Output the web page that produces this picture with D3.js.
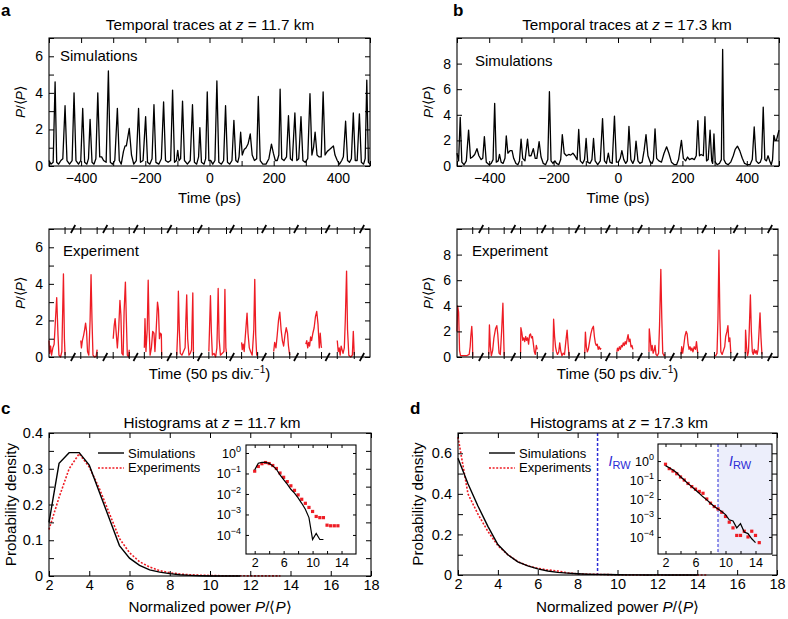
<!DOCTYPE html>
<html>
<head>
<meta charset="utf-8">
<style>
  body { margin: 0; background: #fff; }
  text { font-family: "Liberation Sans", Arial, sans-serif; }
</style>
</head>
<body>
<script src="https://cdnjs.cloudflare.com/ajax/libs/d3/7.8.5/d3.min.js"></script>
<script>
// ---- data ----
// panel a, simulated trace at z = 11.7 km: [time (ps), P/<P>]
const simA = [[-500,0.3],[-494,0.1],[-487,0.2],[-481,4.6],[-476,0.2],[-470,0.1],[-463,0.3],[-457,0.4],[-450,3.3],[-444,0.3],[-436,0.1],[-428,0.3],[-422,4.0],[-416,0.3],[-408,0.1],[-401,0.3],[-395,3.15],[-389,0.2],[-382,0.1],[-377,0.4],[-372,2.55],[-366,0.2],[-360,0.1],[-354,0.4],[-348,4.0],[-342,0.5],[-336,0.5],[-330,0.3],[-322,0.2],[-315,5.2],[-309,0.2],[-302,0.1],[-295,0.3],[-287,3.15],[-281,0.3],[-275,0.1],[-268,0.8],[-263,1.1],[-259,1.1],[-250,2.05],[-243,0.6],[-236,0.1],[-228,0.3],[-221,3.15],[-215,0.2],[-207,0.3],[-199,2.7],[-193,0.2],[-186,0.1],[-179,0.4],[-173,3.35],[-167,0.2],[-158,0.1],[-150,0.4],[-143,3.5],[-137,0.3],[-129,0.2],[-121,0.3],[-115,4.15],[-109,0.2],[-103,0.3],[-99,0.85],[-95,0.3],[-90,0.4],[-84,3.55],[-78,0.3],[-69,0.1],[-60,0.3],[-53,3.35],[-47,0.2],[-40,0.1],[-34,0.5],[-30,2.1],[-25,0.2],[-17,0.1],[-12,0.4],[-7,4.05],[-2,0.3],[4,0.3],[10,0.1],[17,0.3],[23,4.65],[29,0.2],[37,0.1],[44,0.3],[50,3.3],[56,0.2],[63,0.1],[70,0.3],[76,2.5],[82,0.3],[88,0.2],[92,0.5],[97,1.85],[102,0.6],[108,0.9],[114,1.0],[120,1.2],[127,1.75],[133,0.6],[140,0.3],[147,0.4],[152,3.8],[158,0.3],[166,0.1],[176,0.1],[185,0.4],[193,1.2],[199,0.7],[205,0.3],[211,0.3],[216,0.6],[220,4.2],[225,0.4],[232,0.3],[240,0.5],[246,2.75],[252,0.4],[258,0.3],[266,2.9],[272,0.3],[278,0.4],[285,2.7],[291,0.3],[298,0.2],[306,0.4],[313,3.95],[319,0.6],[324,1.0],[329,1.85],[335,0.6],[341,0.5],[348,0.5],[354,4.05],[360,0.6],[367,0.8],[374,0.9],[380,1.0],[386,1.1],[391,0.6],[398,0.3],[405,0.1],[412,0.3],[417,0.5],[424,2.45],[430,0.3],[436,0.2],[442,0.4],[448,2.9],[454,0.3],[460,0.3],[467,2.85],[473,0.2],[480,0.1],[485,0.4],[490,4.7],[495,0.2],[500,0.1]];

// panel b, simulated trace at z = 17.3 km
const simB = [[-500,1.0],[-495,0.4],[-490,3.8],[-485,0.3],[-478,0.1],[-471,0.4],[-464,2.8],[-458,0.6],[-452,0.7],[-445,0.9],[-438,1.35],[-432,0.8],[-425,0.5],[-420,0.6],[-415,2.3],[-409,0.3],[-400,0.1],[-394,0.2],[-388,0.5],[-383,4.9],[-378,0.3],[-372,0.4],[-368,0.9],[-363,0.3],[-357,0.2],[-351,0.6],[-347,2.35],[-342,1.0],[-335,1.2],[-329,1.2],[-324,0.6],[-317,0.2],[-311,0.1],[-306,0.4],[-301,2.1],[-296,0.6],[-289,0.4],[-281,2.1],[-276,0.8],[-270,0.8],[-263,1.35],[-257,0.6],[-252,0.6],[-245,1.9],[-239,0.7],[-232,0.2],[-225,0.1],[-218,0.5],[-213,5.8],[-208,0.4],[-202,0.2],[-196,0.4],[-191,0.2],[-184,0.1],[-178,0.5],[-173,2.45],[-167,1.0],[-160,0.8],[-153,0.9],[-147,0.85],[-140,1.0],[-134,0.8],[-127,0.5],[-122,2.85],[-117,0.4],[-110,0.2],[-104,0.5],[-99,2.15],[-94,0.3],[-87,0.2],[-81,0.5],[-76,2.15],[-71,0.4],[-63,0.1],[-55,0.4],[-48,3.7],[-42,0.4],[-36,0.2],[-30,1.0],[-25,0.3],[-18,0.2],[-11,3.9],[-5,0.3],[1,0.3],[7,0.6],[12,1.2],[18,0.5],[24,0.2],[29,0.4],[34,3.1],[40,0.5],[46,0.2],[51,0.5],[56,1.95],[62,0.4],[68,0.2],[75,0.3],[81,1.2],[87,2.45],[93,0.8],[100,0.3],[106,0.2],[110,0.5],[115,2.9],[120,0.6],[127,0.4],[135,0.3],[143,1.0],[151,1.5],[158,1.0],[166,0.3],[175,0.1],[182,0.1],[188,0.5],[197,2.0],[203,0.6],[210,0.4],[216,0.7],[222,0.5],[230,0.6],[237,0.5],[243,0.8],[248,3.55],[253,0.8],[258,0.9],[265,0.8],[270,3.85],[275,0.4],[280,0.5],[286,2.8],[291,0.4],[294,0.2],[298,2.5],[302,0.3],[308,0.1],[315,0.2],[321,0.5],[325,9.1],[329,0.5],[335,0.2],[342,0.1],[350,0.3],[358,0.8],[364,1.3],[371,1.55],[378,1.2],[386,0.6],[393,0.2],[402,0.1],[410,0.1],[417,0.5],[423,3.05],[429,0.4],[436,0.2],[442,0.3],[446,0.6],[451,4.6],[456,0.5],[461,0.4],[466,0.8],[471,0.4],[476,0.1],[480,0.5],[484,2.4],[488,2.0],[492,2.0],[496,2.4],[500,2.8]];

// experimental traces: 10 recorded windows each, x in ps on a broken axis
const expA = [
  [[0,0.9],[2,0.2],[5,0.6],[8,0.1],[12,0.5],[16,0.7],[20,2.0],[24,3.25],[28,1.2],[31,0.1],[36,0.0],[40,0.3],[45,4.55],[48,1.0],[50,0.1]],
  [[99,0.9],[101,0.5],[104,0.9],[108,1.2],[111,1.5],[114,1.85],[117,1.4],[120,0.3],[124,0.1],[128,2.0],[131,4.5],[134,2.0],[137,0.1],[142,0.0],[147,0.05],[150,0.4]],
  [[200,1.0],[203,1.7],[206,2.1],[209,1.4],[213,0.5],[217,1.5],[221,3.1],[224,2.3],[227,0.2],[231,0.1],[234,2.5],[238,4.1],[241,2.0],[244,0.1],[248,0.0],[250,0.4]],
  [[297,0.5],[299,2.1],[302,0.3],[306,1.5],[309,4.2],[312,1.5],[315,0.1],[319,0.5],[323,1.4],[327,1.3],[330,0.3],[334,1.5],[338,3.0],[341,2.6],[344,1.0],[347,1.3],[350,1.25],[351,0.1]],
  [[398,0.1],[401,1.5],[403,3.6],[406,1.5],[409,0.2],[414,0.1],[419,0.3],[424,0.5],[426,1.8],[429,3.4],[432,1.0],[436,0.1],[440,0.2],[444,0.4],[446,2.0],[448,3.5],[450,0.2]],
  [[498,0.3],[500,1.5],[503,3.35],[506,1.3],[509,0.1],[514,0.2],[519,0.0],[523,0.5],[525,2.0],[527,3.75],[530,1.0],[534,0.1],[540,0.2],[545,0.3],[548,3.7],[551,0.5],[553,0.2]],
  [[600,0.8],[602,0.4],[605,0.7],[608,0.3],[611,1.0],[614,1.7],[617,2.4],[620,1.3],[624,0.5],[628,0.3],[633,0.1],[638,1.5],[641,4.25],[644,1.2],[647,0.1],[650,0.2]],
  [[700,0.3],[703,0.8],[707,0.5],[711,1.2],[715,2.0],[719,2.45],[723,1.5],[727,0.9],[731,0.6],[735,1.2],[739,1.6],[743,1.3],[746,0.6],[749,0.2],[750,0.1]],
  [[800,0.7],[803,0.9],[806,0.5],[809,0.8],[812,0.6],[815,1.1],[818,0.9],[822,1.3],[826,1.6],[830,2.2],[834,2.5],[838,1.8],[842,0.5],[845,1.3],[848,0.6],[849,0.5]],
  [[898,0.9],[901,0.3],[904,0.5],[907,0.1],[910,0.6],[913,0.4],[916,0.2],[920,0.5],[923,2.0],[927,4.7],[930,1.5],[934,0.1],[940,0.0],[945,0.1],[948,1.4],[951,0.1]]
];
const expB = [
  [[0,2.0],[2,4.0],[5,3.5],[8,0.5],[11,0.1],[20,0.1],[30,0.1],[38,0.2],[41,0.8],[43,1.6],[46,2.4],[48,1.5],[49,0.1]],
  [[99,0.2],[101,2.5],[104,0.8],[107,0.1],[111,0.5],[115,1.5],[120,2.2],[124,2.45],[127,1.8],[131,0.3],[135,0.2],[139,2.0],[143,4.2],[146,1.0],[147,0.1]],
  [[198,0.3],[199,2.3],[202,1.9],[205,1.3],[208,1.5],[211,1.2],[214,1.6],[217,1.3],[220,1.5],[223,1.0],[226,1.7],[229,1.8],[232,1.5],[235,1.6],[238,1.0],[241,0.4],[244,0.2],[247,0.9],[250,0.6]],
  [[299,0.4],[301,2.95],[304,1.6],[307,0.8],[310,0.4],[313,0.2],[317,0.4],[320,1.1],[323,0.5],[327,0.1],[331,0.3],[335,0.2],[339,1.2],[343,2.1],[346,1.0],[349,0.1]],
  [[398,0.3],[400,1.95],[403,0.8],[406,0.4],[409,0.6],[413,1.2],[417,1.8],[421,2.2],[425,2.4],[428,1.6],[431,1.1],[434,0.9],[437,1.0],[440,0.6],[443,0.8],[446,0.6],[449,0.7]],
  [[498,0.4],[500,0.7],[503,0.5],[506,0.8],[509,0.6],[512,0.9],[515,0.8],[518,1.1],[521,0.9],[524,1.2],[527,1.0],[530,1.4],[533,1.75],[536,1.2],[539,1.4],[542,0.8],[545,0.9],[548,0.6]],
  [[598,0.4],[599,2.2],[602,1.4],[605,0.5],[608,0.9],[611,0.3],[614,0.5],[617,0.9],[620,0.2],[624,0.1],[628,0.3],[631,2.5],[635,6.85],[638,3.0],[641,0.3],[645,0.1],[648,0.2]],
  [[698,0.2],[700,0.8],[703,0.3],[706,0.8],[710,1.6],[714,2.0],[717,1.8],[720,1.0],[723,0.6],[726,0.8],[729,0.5],[732,0.7],[735,0.4],[739,0.8],[743,0.6],[746,1.2],[749,0.5],[750,0.3]],
  [[802,0.1],[806,0.1],[810,0.3],[813,3.0],[816,8.35],[819,3.0],[822,0.4],[826,0.2],[830,0.5],[834,0.8],[837,1.6],[841,2.0],[844,2.45],[847,1.2],[850,1.5],[853,0.3]],
  [[898,0.3],[899,2.1],[902,0.8],[905,0.1],[908,0.4],[911,2.5],[914,4.85],[917,2.0],[920,0.4],[923,0.2],[926,0.6],[929,0.3],[932,0.5],[935,0.2],[938,0.6],[941,2.0],[944,3.45],[947,1.5],[950,0.2]]
];
// axis breaks between the recorded windows
const expBreaks = [75, 175, 270, 375, 470, 570, 670, 770, 868, 975];

// histograms: normalized power bins and probability density
const binsC_sim = [2,2.5,3,3.5,4,4.5,5,5.5,6,6.5,7,7.5,8,8.5,9,9.5,10,10.5,11,11.5];
const pdfC_sim  = [0.15,0.315,0.345,0.345,0.31,0.235,0.16,0.085,0.05,0.03,0.017,0.011,0.0065,0.0035,0.0018,0.0007,0.00006,0.00012,0.00006,0.00006];
const binsC_exp = [2,2.5,3,3.5,4,4.5,5,5.5,6,6.5,7,7.5,8,8.5,9,9.5,10,10.5,11,11.5,12,12.5,13,13.5];
const pdfC_exp  = [0.13,0.22,0.3,0.342,0.305,0.245,0.175,0.105,0.065,0.04,0.025,0.015,0.009,0.0055,0.0035,0.0022,0.0014,0.0008,0.0007,0.0007,0.0003,0.00028,0.00028,0.00028];
const binsD_sim = [2,2.5,3,3.5,4,4.5,5,5.5,6,6.5,7,7.5,8,8.5,9,9.5,10,10.5,11,11.5,12,12.5,13,13.5,14];
const pdfD_sim  = [0.575,0.45,0.34,0.24,0.15,0.1,0.065,0.045,0.03,0.02,0.013,0.009,0.006,0.004,0.003,0.0022,0.0015,0.0008,0.0007,0.0003,0.0005,0.00018,0.00015,0.00008,0.00005];
const binsD_exp = [2,2.5,3,3.5,4,4.5,5,5.5,6,6.5,7,7.5,8,8.5,9,9.5,10,10.5,11,11.5,12,12.5,13,13.5,14,14.5];
const pdfD_exp  = [0.68,0.4,0.3,0.215,0.145,0.1,0.066,0.045,0.033,0.025,0.02,0.01,0.006,0.004,0.003,0.002,0.0012,0.0006,0.0003,0.00012,0.00012,0.0002,0.0001,0.0002,0.00012,0.00005];
const rogueThreshold = 9;

const tracesXTicks = [-500,-400,-300,-200,-100,0,100,200,300,400,500];
const tracesXLabels = [-400,-200,0,200,400];

// ---- drawing ----
const RED = "#ee1c24", BLUE = "#2b2bd6";
const svg = d3.select("body").append("svg").attr("width", 788).attr("height", 619);

function frame(x, y) {
  const [x0, x1] = x.range(), [y1, y0] = y.range();
  svg.append("rect").attr("x", x0).attr("y", y0).attr("width", x1 - x0).attr("height", y1 - y0)
    .attr("fill", "none").attr("stroke", "#000").attr("stroke-width", 1.1);
}

function axes(x, y, o) {
  const [x0, x1] = x.range(), [y1, y0] = y.range();
  const ts = o.tick || 5, fs = o.fs || 14;
  const parts = [];
  if (o.xTicks) {
    parts.push(svg.append("g").attr("transform", `translate(0,${y1})`)
      .call(d3.axisBottom(x).tickValues(o.xTicks).tickSize(-ts).tickPadding(o.xPad || 7)
        .tickFormat(v => (o.xLabels || []).includes(v) ? d3.format("")(v) : "")));
    parts.push(svg.append("g").attr("transform", `translate(0,${y0})`)
      .call(d3.axisTop(x).tickValues(o.xTicks).tickSize(-ts).tickFormat("")));
  }
  const left = svg.append("g").attr("transform", `translate(${x0},0)`)
    .call(d3.axisLeft(y).tickValues(o.yTicks).tickSize(-ts).tickPadding(6)
      .tickFormat(v => (o.yLabels || []).includes(v) ? (o.yFmt ? o.yFmt(v) : String(v)) : ""));
  parts.push(left);
  parts.push(svg.append("g").attr("transform", `translate(${x1},0)`)
    .call(d3.axisRight(y).tickValues(o.yTicks).tickSize(-ts).tickFormat("")));
  parts.forEach(g => {
    g.select(".domain").remove();
    g.selectAll("line").attr("stroke", "#000").attr("stroke-width", 1);
    g.selectAll("text").attr("font-size", fs).attr("fill", "#000")
      .style("font-family", "Liberation Sans, Arial, sans-serif");
  });
  return left;
}

function text(x, y, s, o = {}) {
  return svg.append("text").attr("x", x).attr("y", y)
    .attr("font-size", o.fs || 15).attr("text-anchor", o.anchor || "start")
    .attr("font-weight", o.bold ? "bold" : null).attr("fill", o.fill || "#000").text(s);
}

function ratioLabel(el) {
  el.append("tspan").attr("font-style", "italic").text("P");
  el.append("tspan").text("/\u27E8");
  el.append("tspan").attr("font-style", "italic").text("P");
  el.append("tspan").text("\u27E9");
}

function yLabel(x, y, builder, fs) {
  const t = svg.append("text").attr("transform", `translate(${x},${y}) rotate(-90)`)
    .attr("text-anchor", "middle").attr("font-size", fs || 13.5);
  builder(t);
}

function title(x, y, pre, z) {
  const t = text(x, y, "", { anchor: "middle", fs: 15.3 });
  t.append("tspan").text(pre);
  t.append("tspan").attr("font-style", "italic").text("z");
  t.append("tspan").text(" = " + z + " km");
}

function rwLabel(x, y) {
  const t = text(x, y, "", { fill: BLUE, fs: 14 });
  t.append("tspan").attr("font-style", "italic").text("I");
  t.append("tspan").attr("dy", 3).attr("font-size", 11).text("RW");
}

const line = d3.line().x(d => d[0]).y(d => d[1]);

// trace panels
function simPanel(data, x0, x1, yMax, yTicks, yLabels, lx, ly, ylx) {
  const x = d3.scaleLinear().domain([-500, 500]).range([x0, x1]);
  const y = d3.scaleLinear().domain([0, yMax]).range([166, 38]);
  svg.append("path").attr("d", line(data.map(d => [x(d[0]), y(d[1])])))
    .attr("fill", "none").attr("stroke", "#000").attr("stroke-width", 1.3).attr("stroke-linejoin", "round");
  axes(x, y, { xTicks: tracesXTicks, xLabels: tracesXLabels, yTicks, yLabels });
  frame(x, y);
  text(lx, ly, "Simulations");
  text((x0 + x1) / 2, 203, "Time (ps)", { anchor: "middle" });
  yLabel(ylx, (38 + 166) / 2, ratioLabel);
}

function expPanel(segs, x0, x1, yMax, yTicks, yLabels, lx, ylx) {
  const x = d3.scaleLinear().domain([0, 1000]).range([x0, x1]);
  const y = d3.scaleLinear().domain([0, yMax]).range([357, 229]);
  segs.forEach(s => svg.append("path").attr("d", line(s.map(d => [x(d[0]), y(d[1])])))
    .attr("fill", "none").attr("stroke", RED).attr("stroke-width", 1.3).attr("stroke-linejoin", "round"));
  axes(x, y, { yTicks, yLabels });
  frame(x, y);
  // window edge ticks and axis break marks
  const edges = [];
  segs.forEach(s => { edges.push(s[0][0], s[s.length - 1][0]); });
  edges.forEach(u => {
    if (x(u) <= x0 + 1) return;
    [[229, 1], [357, -1]].forEach(([yy, dir]) => {
      svg.append("line").attr("x1", x(u)).attr("x2", x(u)).attr("y1", yy - 2 * dir).attr("y2", yy + 5 * dir)
        .attr("stroke", "#000").attr("stroke-width", 1);
    });
  });
  expBreaks.forEach(u => {
    [229, 357].forEach(yy => {
      svg.append("line").attr("x1", x(u) - 2.2).attr("x2", x(u) + 2.2).attr("y1", yy + 4).attr("y2", yy - 4)
        .attr("stroke", "#000").attr("stroke-width", 1.7);
    });
  });
  text(lx, 256, "Experiment");
  const t = text((x0 + x1) / 2, 379, "Time (50 ps div.", { anchor: "middle" });
  t.append("tspan").attr("dy", -6).attr("font-size", 10).text("\u22121");
  t.append("tspan").attr("dy", 6).text(")");
  yLabel(ylx, (229 + 357) / 2, ratioLabel);
}

simPanel(simA, 49, 370, 7, [0,1,2,3,4,5,6,7], [0,2,4,6], 60, 61, 25);
simPanel(simB, 457, 779, 10, [0,2,4,6,8,10], [0,2,4,6,8], 475, 66, 433);
expPanel(expA, 49, 370, 7, [0,1,2,3,4,5,6,7], [0,2,4,6], 63, 25);
expPanel(expB, 457, 778, 10, [0,2,4,6,8,10], [0,2,4,6,8], 472, 433);

title(210, 30, "Temporal traces at ", "11.7");
title(627, 30, "Temporal traces at ", "17.3");
text(1, 16, "a", { fs: 17, bold: true });
text(453, 16, "b", { fs: 17, bold: true });

// histogram panels
function histPanel(o) {
  const x = d3.scaleLinear().domain([2, 18]).range([o.x0, o.x1]);
  const y = d3.scaleLinear().domain([0, o.yMax]).range([o.y1, 433]);
  const simPts = o.simBins.map((b, i) => [x(b), y(o.simPdf[i])]);
  const expPts = o.expBins.map((b, i) => [x(b), y(o.expPdf[i])]);
  if (o.rogue) {
    svg.append("line").attr("x1", x(rogueThreshold)).attr("x2", x(rogueThreshold)).attr("y1", 433).attr("y2", o.y1)
      .attr("stroke", BLUE).attr("stroke-width", 1.5).attr("stroke-dasharray", "3,2");
    rwLabel(x(rogueThreshold) + 11, 466);
  }
  svg.append("path").attr("d", line(expPts)).attr("fill", "none").attr("stroke", RED)
    .attr("stroke-width", 1.6).attr("stroke-dasharray", "2,1.6");
  svg.append("path").attr("d", line(simPts)).attr("fill", "none").attr("stroke", "#000").attr("stroke-width", 1.4);
  axes(x, y, { xTicks: d3.range(2, 19, 2), xLabels: d3.range(2, 19, 2), yTicks: o.yTicks, yLabels: o.yLabels,
    yFmt: v => v === 0 ? "0" : v.toFixed(1), fs: 14.5, xPad: 4 });
  frame(x, y);
  // legend
  svg.append("line").attr("x1", o.lx).attr("x2", o.lx + 26).attr("y1", 453).attr("y2", 453)
    .attr("stroke", "#000").attr("stroke-width", 1.4);
  text(o.lx + 30, 458, "Simulations", { fs: 13 });
  svg.append("line").attr("x1", o.lx).attr("x2", o.lx + 26).attr("y1", 468).attr("y2", 468)
    .attr("stroke", RED).attr("stroke-width", 1.6).attr("stroke-dasharray", "2,1.6");
  text(o.lx + 30, 472, "Experiments", { fs: 13 });
  const t = text((o.x0 + o.x1) / 2, 612, "Normalized power ", { anchor: "middle", fs: 15.2 });
  ratioLabel(t);
  svg.append("text").attr("transform", `translate(${o.ylx},${(433 + o.y1) / 2}) rotate(-90)`)
    .attr("text-anchor", "middle").attr("font-size", 15.2).text("Probability density");

  // inset (log scale)
  const ix = d3.scaleLinear().domain(o.ixDom).range([o.ix0, o.ix1]);
  const iy = d3.scaleLog().domain(o.iyDom).range([o.iy1, o.iy0]);
  svg.append("rect").attr("x", o.ix0).attr("y", o.iy0).attr("width", o.ix1 - o.ix0).attr("height", o.iy1 - o.iy0).attr("fill", "#fff");
  if (o.rogue) {
    svg.append("rect").attr("x", ix(rogueThreshold)).attr("y", o.iy0).attr("width", o.ix1 - ix(rogueThreshold))
      .attr("height", o.iy1 - o.iy0).attr("fill", "#eceefb");
    svg.append("line").attr("x1", ix(rogueThreshold)).attr("x2", ix(rogueThreshold)).attr("y1", o.iy0).attr("y2", o.iy1)
      .attr("stroke", BLUE).attr("stroke-width", 1).attr("stroke-dasharray", "3,2");
    rwLabel(ix(rogueThreshold) + 11, 466);
  }
  svg.selectAll(null).data(o.expBins.map((b, i) => [b, o.expPdf[i]])).join("rect")
    .attr("x", d => ix(d[0]) - 1.6).attr("y", d => iy(d[1]) - 1.6).attr("width", 3.2).attr("height", 3.2)
    .attr("fill", RED);
  svg.append("path").attr("d", line(o.simBins.map((b, i) => [ix(b), iy(o.simPdf[i])])))
    .attr("fill", "none").attr("stroke", "#000").attr("stroke-width", 1.2);
  axes(ix, iy, { xTicks: [2,4,6,8,10,12,14], xLabels: [2,6,10,14], yTicks: [1,0.1,0.01,0.001,0.0001],
    yLabels: [], fs: 12.5, tick: 3, xPad: 4 });
  frame(ix, iy);
  [1,0.1,0.01,0.001,0.0001].forEach((v, i) => {
    const t3 = svg.append("text").attr("x", o.ix0 - o.ipad).attr("y", iy(v) + 5).attr("text-anchor", "end").attr("font-size", 12.5);
    t3.append("tspan").text("10");
    t3.append("tspan").attr("dy", -6).attr("font-size", 9).text(i === 0 ? "0" : "\u2212" + i);
  });
}

histPanel({ x0: 49, x1: 371, y1: 576, yMax: 0.4, yTicks: d3.range(0, 0.401, 0.05).map(v => +v.toFixed(2)),
  yLabels: [0, 0.1, 0.2, 0.3, 0.4], simBins: binsC_sim, simPdf: pdfC_sim, expBins: binsC_exp, expPdf: pdfC_exp,
  lx: 98, ylx: 16, ipad: 5, ix0: 246, ix1: 356, iy0: 445, iy1: 554, ixDom: [0.8, 16], iyDom: [Math.pow(10, -4.93), Math.pow(10, 0.39)] });
histPanel({ x0: 458, x1: 777, y1: 575, yMax: 0.7, yTicks: [0,0.1,0.2,0.3,0.4,0.5,0.6,0.7],
  yLabels: [0, 0.2, 0.4, 0.6], simBins: binsD_sim, simPdf: pdfD_sim, expBins: binsD_exp, expPdf: pdfD_exp,
  lx: 489, ylx: 423, ipad: 4, rogue: true, ix0: 658, ix1: 772, iy0: 444, iy1: 554, ixDom: [1, 16.2], iyDom: [Math.pow(10, -4.9), Math.pow(10, 0.9)] });

title(212, 428, "Histograms at ", "11.7");
title(619, 428, "Histograms at ", "17.3");
text(1, 414, "c", { fs: 17, bold: true });
text(410, 414, "d", { fs: 17, bold: true });
</script>
</body>
</html>
